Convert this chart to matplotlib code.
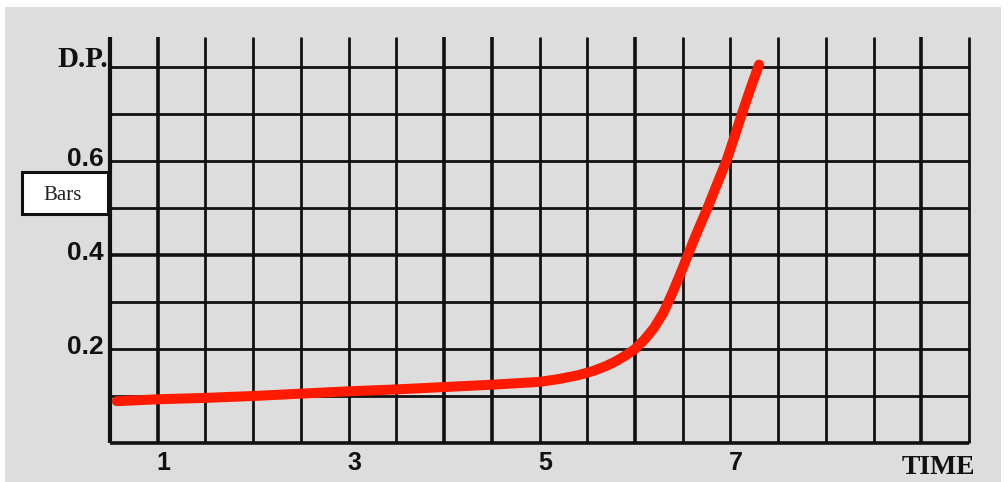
import matplotlib
matplotlib.use("Agg")
import matplotlib.pyplot as plt
from matplotlib.patches import Rectangle

# ---- data ----
time = [0.57, 1.0, 1.5, 2.0, 2.5, 3.0, 3.5, 4.0, 4.5, 5.0, 5.2, 5.4, 5.56, 5.7,
        5.8, 5.9, 6.0, 6.1, 6.2, 6.3, 6.4, 6.5, 6.55, 6.65, 6.76, 6.86, 6.96,
        7.04, 7.12, 7.21, 7.30]
dp = [0.089, 0.093, 0.096, 0.100, 0.105, 0.110, 0.114, 0.119, 0.124, 0.130, 0.136,
      0.144, 0.153, 0.164, 0.174, 0.186, 0.200, 0.220, 0.245, 0.278, 0.323, 0.372,
      0.398, 0.448, 0.500, 0.551, 0.601, 0.650, 0.700, 0.754, 0.805]

x_ticks = [1, 3, 5, 7]
x_tick_labels = ["1", "3", "5", "7"]
y_ticks = [0.2, 0.4, 0.6]
y_tick_labels = ["0.2", "0.4", "0.6"]
x_grid = [0.5 + 0.5 * i for i in range(19)]
y_grid = [0.1 * i for i in range(9)]

W, H = 1008, 482
fig = plt.figure(figsize=(W / 100, H / 100), dpi=100, facecolor="white")

# gray background panel
fig.patches.append(Rectangle((5 / W, 0), (1001 - 5) / W, (H - 7) / H,
                             transform=fig.transFigure, facecolor="#dddddd",
                             edgecolor="none", zorder=-5))

left, right, top, bottom = 110, 969, 37, 443
ax = fig.add_axes([left / W, (H - bottom) / H, (right - left) / W, (bottom - top) / H])
ax.set_zorder(1)
ax.set_facecolor("none")
y_top = 0.8 * (bottom - top) / (bottom - 67)
ax.set_xlim(0.5, 9.5)
ax.set_ylim(0, y_top)
for s in ax.spines.values():
    s.set_visible(False)

thick_x = {1.0, 4.0, 4.5, 6.0, 9.0}
for xv in x_grid:
    lw = 3.0 if xv == 0.5 else (2.6 if xv in thick_x else 2.0)
    ax.vlines(xv, 0, y_top, color="#111111", lw=lw, clip_on=False, zorder=2)
for yv in y_grid:
    lw = 2.6 if (abs(yv - 0.4) < 1e-6 or yv == 0) else 2.0
    ax.hlines(yv, 0.5, 9.5, color="#111111", lw=lw, clip_on=False, zorder=2)

ax.plot(time, dp, color="#ff1a00", lw=7.2, solid_capstyle="round",
        solid_joinstyle="round", zorder=3)

ax.set_xticks([])
ax.set_yticks([])
for xv, lab in zip(x_ticks, x_tick_labels):
    ax.text(xv + 0.06, -0.043, lab, ha="center", va="center", fontsize=18,
            fontweight="bold", family="Liberation Sans", color="#111111")
for yv, lab in zip(y_ticks, y_tick_labels):
    ax.text(0.43, yv + 0.004, lab, ha="right", va="center", fontsize=19,
            fontweight="bold", family="Liberation Sans", color="#111111")

ax.text(0.48, 0.8, "D.P.", ha="right", va="baseline", fontsize=21,
        fontweight="bold", family="Liberation Serif", color="#111111")
ax.text(9.56, -0.053, "TIME", ha="right", va="center", fontsize=20,
        fontweight="bold", family="Liberation Serif", color="#111111")

# "Bars" box
fig.patches.append(Rectangle((22 / W, 1 - 214 / H), 86 / W, 42 / H,
                             transform=fig.transFigure, facecolor="white",
                             edgecolor="#111111", lw=2.2, zorder=5))
fig.text(63 / W, 1 - 196 / H, "Bars", ha="center", va="center", fontsize=15,
         family="Liberation Serif", color="#222222", zorder=6)

fig.savefig("out.png", dpi=100, facecolor="white")
